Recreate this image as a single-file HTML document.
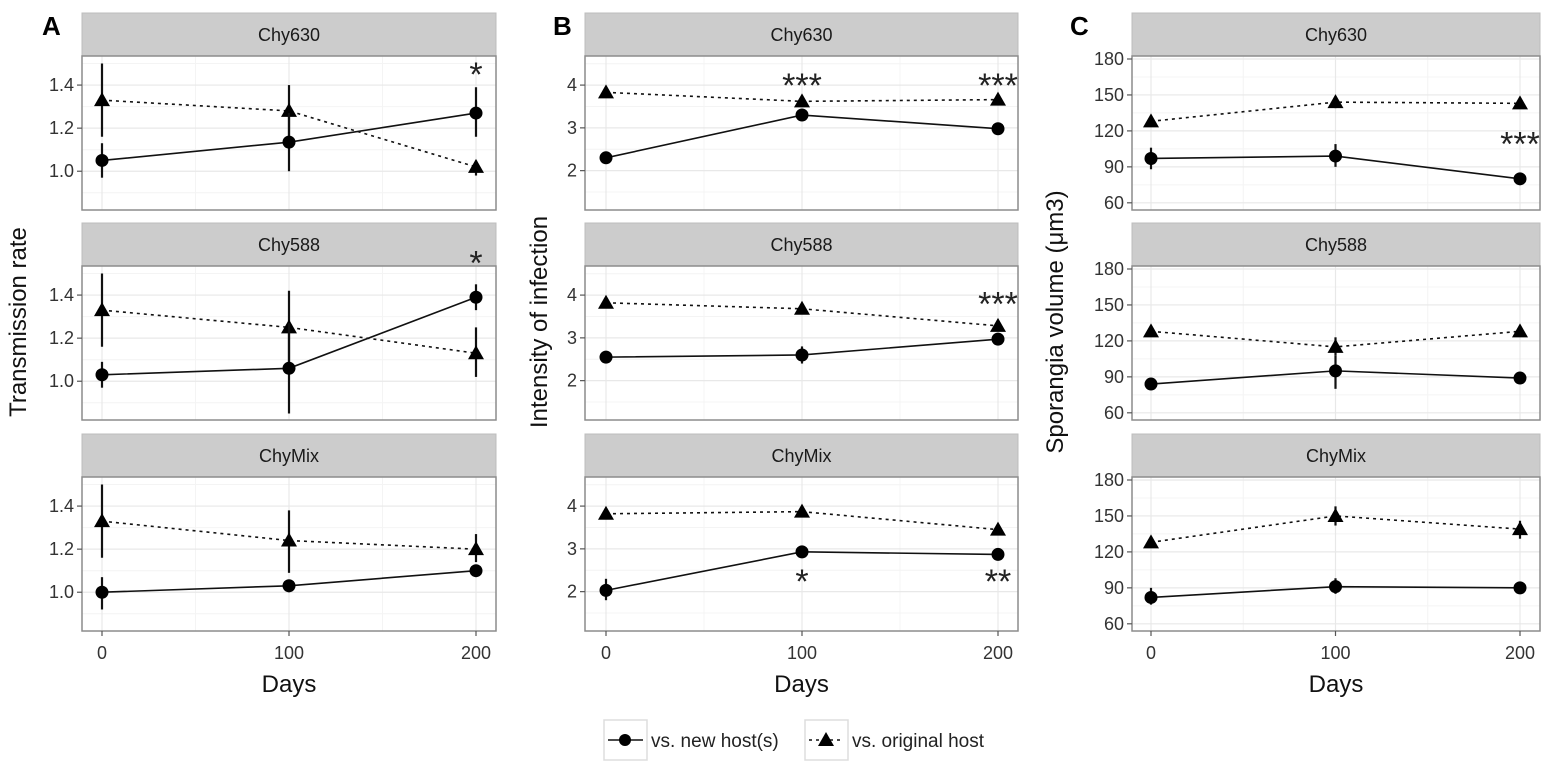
<!DOCTYPE html>
<html><head><meta charset="utf-8"><style>
body{margin:0;background:#fff;}
svg{display:block;font-family:"Liberation Sans",sans-serif;}
</style></head><body>
<svg id="fig" width="1547" height="768" viewBox="0 0 1547 768"></svg>
<script>
const days = [0, 100, 200];
const facets = ["Chy630", "Chy588", "ChyMix"];
// Panel A: transmission rate [facet][day]
const aNew = [[1.05,1.135,1.27],[1.03,1.06,1.39],[1.0,1.03,1.10]];
const aNewLo = [[0.97,1.0,1.16],[0.97,0.85,1.33],[0.92,1.0,1.08]];
const aNewHi = [[1.13,1.27,1.39],[1.09,1.27,1.45],[1.07,1.05,1.12]];
const aOrig = [[1.33,1.28,1.02],[1.33,1.25,1.13],[1.33,1.24,1.2]];
const aOrigLo = [[1.16,1.15,0.98],[1.16,1.08,1.02],[1.16,1.09,1.14]];
const aOrigHi = [[1.5,1.4,1.05],[1.5,1.42,1.25],[1.5,1.38,1.27]];
const aTicks = [1.0,1.2,1.4];
const aTickLabels = ["1.0","1.2","1.4"];
// Panel B: intensity of infection
const bNew = [[2.3,3.3,2.98],[2.55,2.6,2.97],[2.03,2.93,2.87]];
const bNewLo = [[2.2,3.2,2.9],[2.45,2.4,2.9],[1.8,2.85,2.8]];
const bNewHi = [[2.4,3.4,3.06],[2.65,2.8,3.05],[2.3,3.0,2.95]];
const bOrig = [[3.83,3.62,3.66],[3.82,3.68,3.28],[3.82,3.87,3.45]];
const bOrigLo = [[3.75,3.5,3.58],[3.75,3.6,3.2],[3.75,3.75,3.37]];
const bOrigHi = [[3.9,3.72,3.74],[3.9,3.76,3.36],[3.9,3.97,3.53]];
const bTicks = [2,3,4];
const bTickLabels = ["2","3","4"];
// Panel C: sporangia volume
const cNew = [[97,99,80],[84,95,89],[82,91,90]];
const cNewLo = [[88,90,77],[80,80,85],[76,85,87]];
const cNewHi = [[106,109,83],[88,108,93],[90,98,93]];
const cOrig = [[128,144,143],[128,115,128],[128,150,139]];
const cOrigLo = [[124,139,139],[124,108,124],[124,142,131]];
const cOrigHi = [[132,149,147],[132,123,132],[132,158,146]];
const cTicks = [60,90,120,150,180];
const cTickLabels = ["60","90","120","150","180"];
// significance annotations: [facet, day, value, label]
const aSig = [[0,200,1.46,"*"],[1,200,1.56,"*"]];
const bSig = [[0,100,4.05,"***"],[0,200,4.05,"***"],[1,200,3.85,"***"],[2,100,2.3,"*"],[2,200,2.3,"**"]];
const cSig = [[0,200,111,"***"]];

const NS = "http://www.w3.org/2000/svg";
const svg = document.getElementById("fig");
function mk(tag, attrs, parent, text){
  const e = document.createElementNS(NS, tag);
  for (const k in attrs) e.setAttribute(k, attrs[k]);
  if (text !== undefined) e.textContent = text;
  (parent||svg).appendChild(e);
  return e;
}
const rowTop = [13, 223, 434];
const stripH = 43, plotH = 154;

function panel(cfg){
  const g = mk("g", {});
  
  
  const xS = d => cfg.x0 + (d - 0) / 200 * (cfg.x200 - cfg.x0);
  facets.forEach((f, fi) => {
    const st = rowTop[fi], pt = st + stripH, pb = pt + plotH;
    const yS = v => pb - (v - cfg.dmin) / (cfg.dmax - cfg.dmin) * plotH;
    const fg = mk("g", {}, g);
    
    
    const strip = mk("rect", {x:cfg.left, y:st, width:cfg.right-cfg.left, height:stripH, fill:"#cccccc", stroke:"#bdbdbd", "stroke-width":1}, fg);
    
    
    const stt = mk("text", {x:(cfg.left+cfg.right)/2, y:st+28, "text-anchor":"middle", "font-size":18, fill:"#1a1a1a"}, fg, f);
    
    
    mk("rect", {x:cfg.left, y:pt, width:cfg.right-cfg.left, height:plotH, fill:"#fff"}, fg);
    for (let i=0;i<cfg.ticks.length-1;i++){
      const m = (cfg.ticks[i]+cfg.ticks[i+1])/2;
      mk("line",{x1:cfg.left,x2:cfg.right,y1:yS(m),y2:yS(m),stroke:"#f4f4f4","stroke-width":1},fg);
    }
    const lowMinor = cfg.ticks[0] - (cfg.ticks[1]-cfg.ticks[0])/2;
    if (lowMinor > cfg.dmin) mk("line",{x1:cfg.left,x2:cfg.right,y1:yS(lowMinor),y2:yS(lowMinor),stroke:"#f4f4f4"},fg);
    const hiMinor = cfg.ticks[cfg.ticks.length-1] + (cfg.ticks[1]-cfg.ticks[0])/2;
    if (hiMinor < cfg.dmax) mk("line",{x1:cfg.left,x2:cfg.right,y1:yS(hiMinor),y2:yS(hiMinor),stroke:"#f4f4f4"},fg);
    [50,150].forEach(d=>mk("line",{x1:xS(d),x2:xS(d),y1:pt,y2:pb,stroke:"#f4f4f4"},fg));
    cfg.ticks.forEach(t=>mk("line",{x1:cfg.left,x2:cfg.right,y1:yS(t),y2:yS(t),stroke:"#e8e8e8","stroke-width":1.2},fg));
    days.forEach(d=>mk("line",{x1:xS(d),x2:xS(d),y1:pt,y2:pb,stroke:"#e8e8e8","stroke-width":1.2},fg));
    mk("rect", {x:cfg.left, y:pt, width:cfg.right-cfg.left, height:plotH, fill:"none", stroke:"#8c8c8c", "stroke-width":1.5}, fg);
    cfg.ticks.forEach((t,ti)=>{
      mk("line",{x1:cfg.left-5,x2:cfg.left,y1:yS(t),y2:yS(t),stroke:"#555","stroke-width":1.2},fg);
      const tl = mk("text",{x:cfg.left-8,y:yS(t)+6,"text-anchor":"end","font-size":18,fill:"#333"},fg,cfg.tickLabels[ti]);
      
      
    });
    const drawSeries = (vals, lo, hi, dashed, shape, name) => {
      const sg = mk("g", {}, fg);
      
      
      const pts = days.map((d,i)=>xS(d)+","+yS(vals[fi][i])).join(" ");
      mk("polyline",{points:pts,fill:"none",stroke:"#111","stroke-width":1.6,"stroke-dasharray":dashed?"3,4":"none"},sg);
      days.forEach((d,i)=>{
        const x = xS(d), y = yS(vals[fi][i]);
        const eb = mk("line",{x1:x,x2:x,y1:yS(lo[fi][i]),y2:yS(hi[fi][i]),stroke:"#111","stroke-width":2.2},sg);
        
        
        let p;
        if (shape === "circle") p = mk("circle",{cx:x,cy:y,r:6.5,fill:"#000"},sg);
        else p = mk("polygon",{points:`${x},${y-8} ${x-8},${y+6} ${x+8},${y+6}`,fill:"#000"},sg);
        
        
      });
    };
    drawSeries(cfg.orig, cfg.origLo, cfg.origHi, true, "tri", "series-original-host");
    drawSeries(cfg.nw, cfg.nwLo, cfg.nwHi, false, "circle", "series-new-host");
    cfg.sig.filter(s=>s[0]===fi).forEach(s=>{
      const t = mk("text",{x:xS(s[1]),y:yS(s[2])+14,"text-anchor":"middle","font-size":34,fill:"#222"},fg,s[3]);
      
      
    });
    if (fi === 2){
      days.forEach(d=>{
        mk("line",{x1:xS(d),x2:xS(d),y1:pb,y2:pb+5,stroke:"#555","stroke-width":1.2},fg);
        const xl = mk("text",{x:xS(d),y:pb+28,"text-anchor":"middle","font-size":18,fill:"#333"},fg,String(d));
        
        
      });
    }
  });
  const xt = mk("text",{x:(cfg.left+cfg.right)/2,y:692,"text-anchor":"middle","font-size":24,fill:"#111"},g,"Days");
  
  
  const yt = mk("text",{x:0,y:0,"text-anchor":"middle","font-size":24,fill:"#111",transform:`translate(${cfg.ytx},322) rotate(-90)`},g,cfg.ytitle);
  
  
  const lt = mk("text",{x:cfg.lx,y:35,"font-size":26,"font-weight":"bold",fill:"#000"},g,cfg.letter);
  
  
}

panel({letter:"A",left:82,right:496,x0:102,x200:476,dmin:0.82,dmax:1.535,ticks:aTicks,tickLabels:aTickLabels,
  nw:aNew,nwLo:aNewLo,nwHi:aNewHi,orig:aOrig,origLo:aOrigLo,origHi:aOrigHi,sig:aSig,ytitle:"Transmission rate",ytx:26,lx:42});
panel({letter:"B",left:585,right:1018,x0:606,x200:998,dmin:1.08,dmax:4.68,ticks:bTicks,tickLabels:bTickLabels,
  nw:bNew,nwLo:bNewLo,nwHi:bNewHi,orig:bOrig,origLo:bOrigLo,origHi:bOrigHi,sig:bSig,ytitle:"Intensity of infection",ytx:547,lx:553});
panel({letter:"C",left:1132,right:1540,x0:1151,x200:1520,dmin:54,dmax:182.5,ticks:cTicks,tickLabels:cTickLabels,
  nw:cNew,nwLo:cNewLo,nwHi:cNewHi,orig:cOrig,origLo:cOrigLo,origHi:cOrigHi,sig:cSig,ytitle:"Sporangia volume (\u03bcm3)",ytx:1063,lx:1070});

const lg = mk("g",{});


const e1 = mk("g",{},lg);


mk("rect",{x:604,y:720,width:43,height:40,fill:"#fff",stroke:"#ddd","stroke-width":1.5},e1);
mk("line",{x1:608,x2:643,y1:740,y2:740,stroke:"#111","stroke-width":1.6},e1);
mk("circle",{cx:625,cy:740,r:6,fill:"#000"},e1);
mk("text",{x:651,y:747,"font-size":19,fill:"#222"},e1,"vs. new host(s)");
const e2 = mk("g",{},lg);


mk("rect",{x:805,y:720,width:43,height:40,fill:"#fff",stroke:"#ddd","stroke-width":1.5},e2);
mk("line",{x1:809,x2:844,y1:740,y2:740,stroke:"#111","stroke-width":1.6,"stroke-dasharray":"3,4"},e2);
mk("polygon",{points:"826,732 818,746 834,746",fill:"#000"},e2);
mk("text",{x:852,y:747,"font-size":19,fill:"#222"},e2,"vs. original host");
</script>
</body></html>
